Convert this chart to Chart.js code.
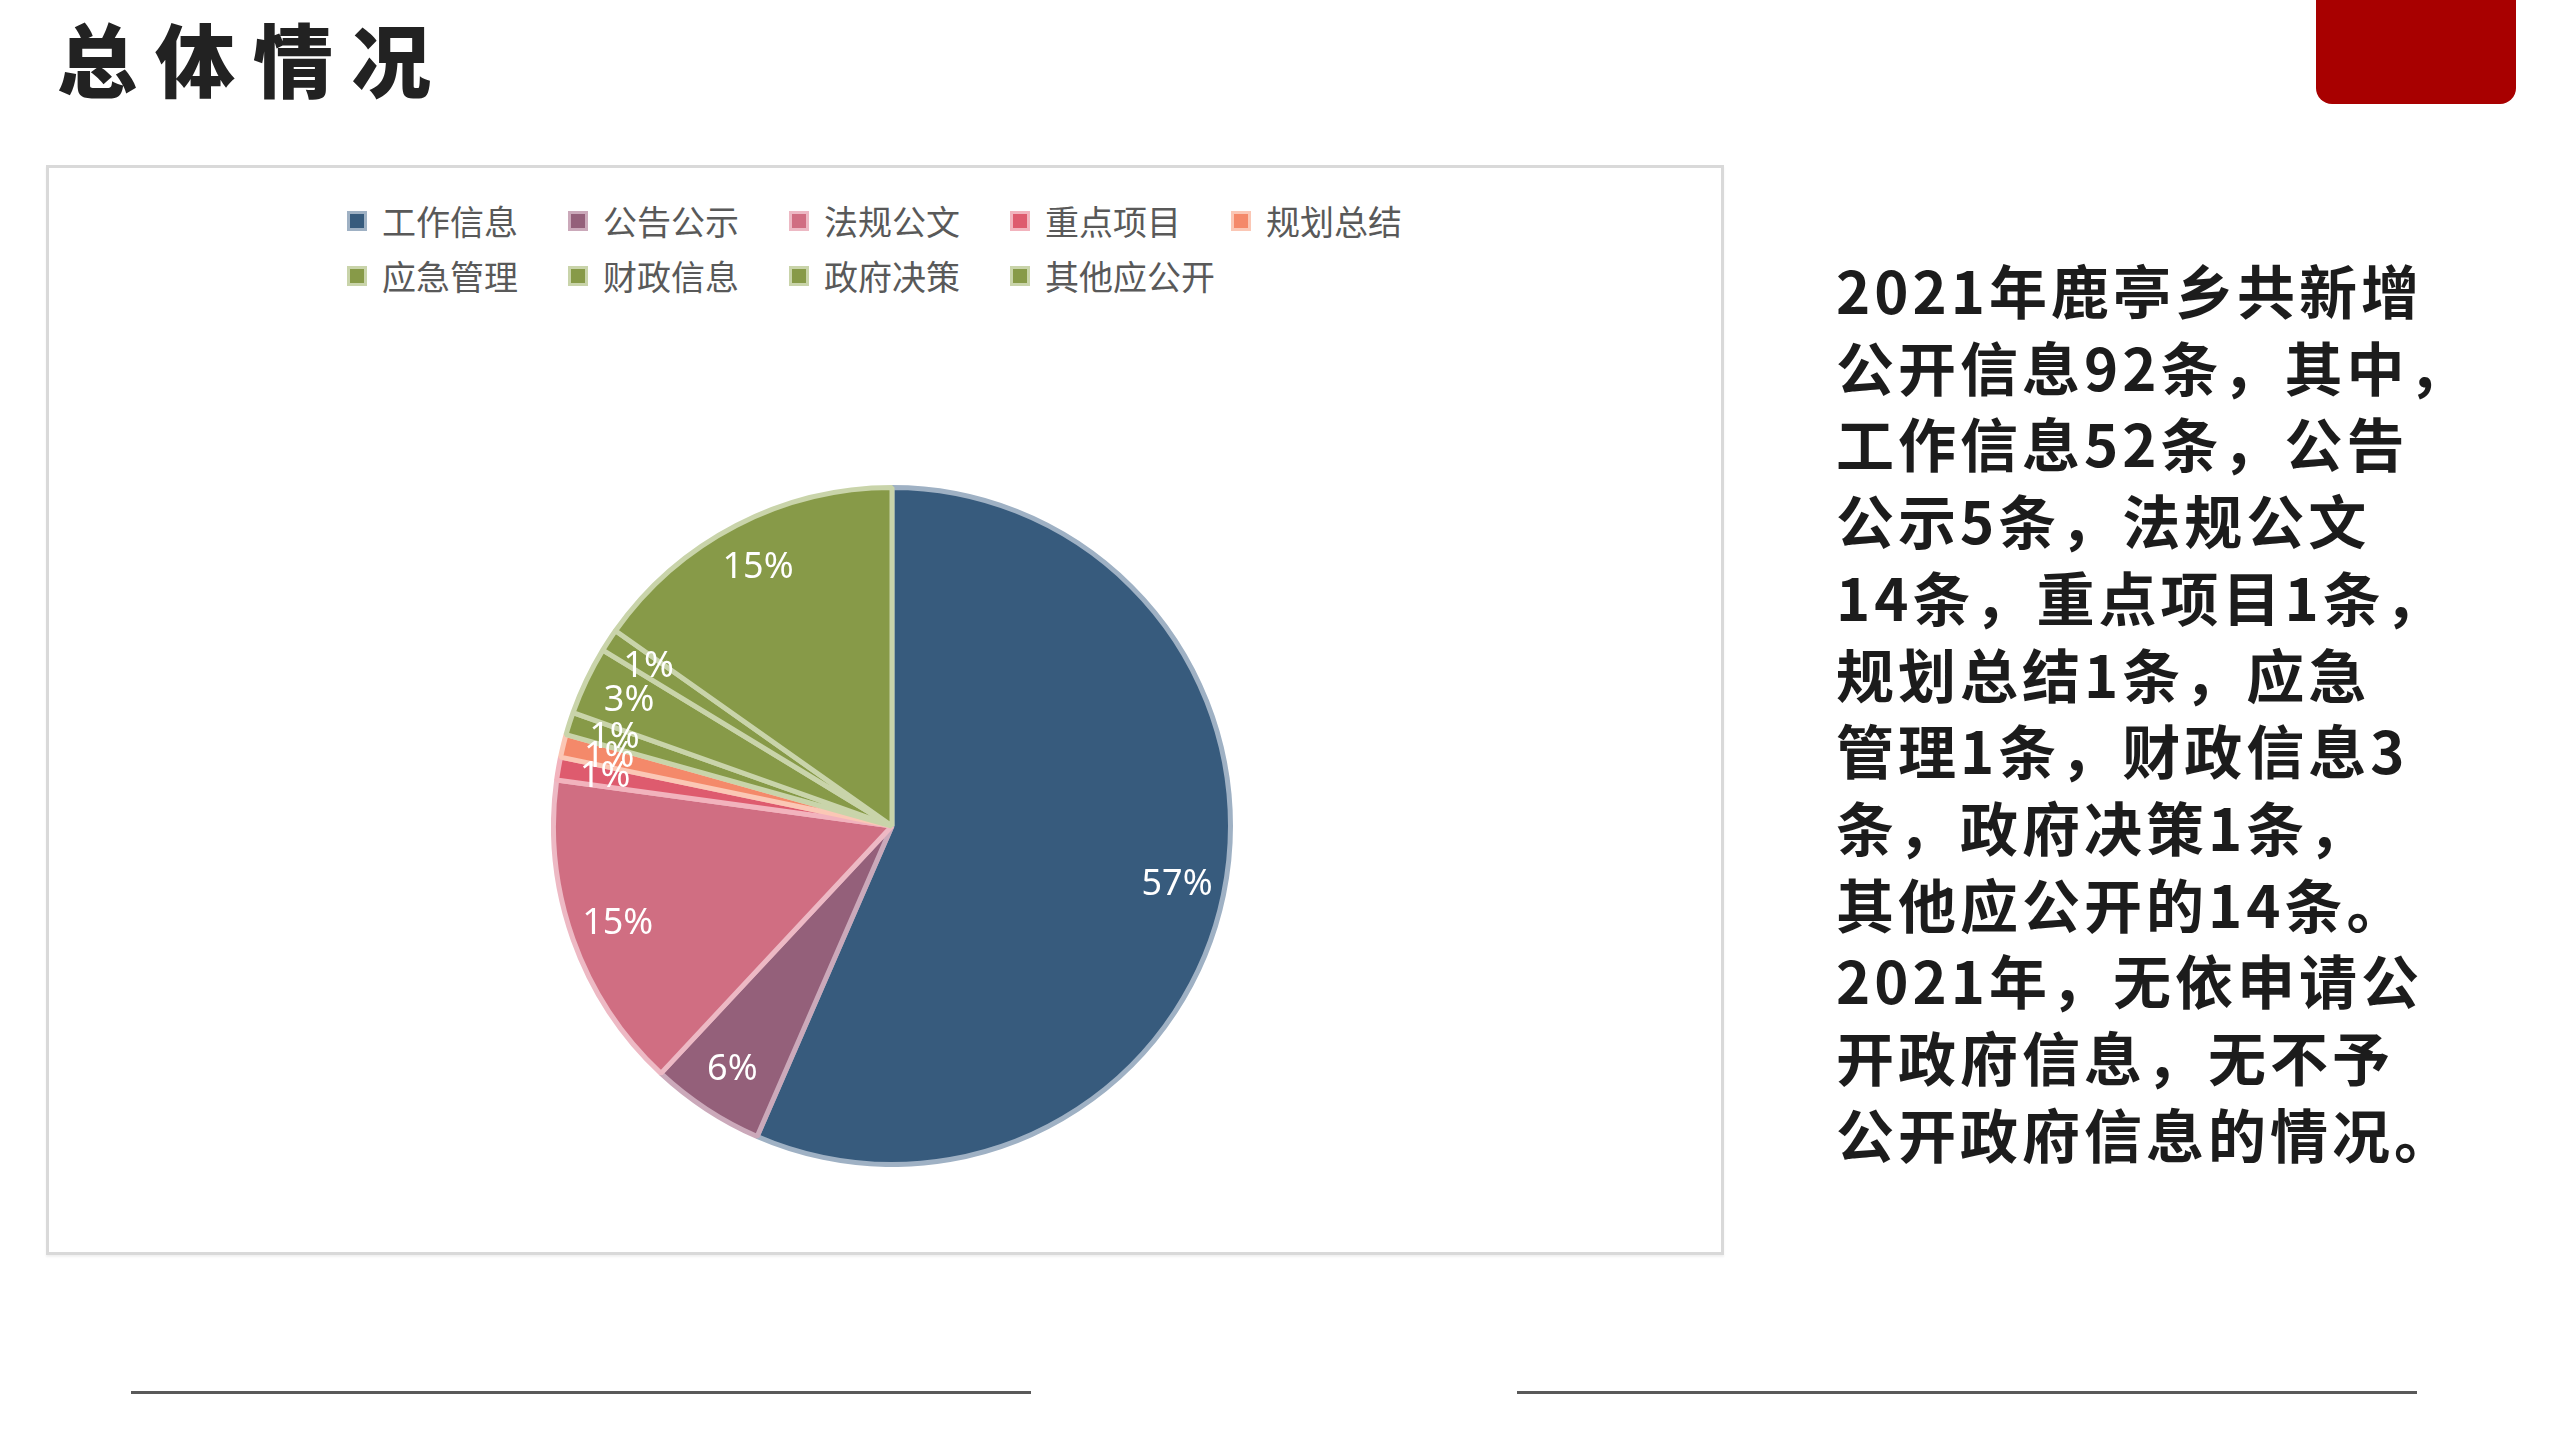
<!DOCTYPE html>
<html>
<head>
<meta charset="utf-8">
<script src="https://cdn.jsdelivr.net/npm/chart.js@4/dist/chart.umd.min.js"></script>
<style>
  html, body { margin:0; padding:0; background:#fff; }
  body { width:2560px; height:1440px; position:relative; overflow:hidden; font-family:"Noto Sans CJK SC","Noto Sans",sans-serif; }
  #title { position:absolute; left:57px; top:16px; font-size:80px; line-height:80px; font-weight:900; letter-spacing:18px; color:#222; }
  #redbox { position:absolute; left:2316px; top:0; width:200px; height:104px; background:#A80000; border-radius:0 0 16px 16px; }
  #frame { position:absolute; left:46px; top:165px; width:1672px; height:1084px; border:3px solid #D9D9D9; box-shadow:0 2px 2px rgba(0,0,0,0.06); }
  #chartWrap { position:absolute; left:551px; top:485px; width:682px; height:682px; }
  #legend { position:absolute; left:347px; top:204px; display:grid; grid-template-columns:repeat(5, 221px); row-gap:21px; }
  .li { display:flex; align-items:center; height:34px; }
  .lb { width:14px; height:14px; border:3px solid; margin-right:15px; }
  .lt { font-size:34px; line-height:34px; color:#595959; white-space:nowrap; }
  #desc { position:absolute; left:1836px; top:251px; font-size:58px; line-height:76.7px; font-weight:700; letter-spacing:4px; color:#1c1c1c; white-space:nowrap; }
  .hl { position:absolute; top:1391px; height:3px; background:#595959; }
</style>
</head>
<body>
<div id="title">总体情况</div>
<div id="redbox"></div>
<div id="frame"></div>
<div id="legend"></div>
<div id="chartWrap"><canvas id="c" width="682" height="682"></canvas></div>
<div id="desc">2021年鹿亭乡共新增<br>公开信息92条，其中，<br>工作信息52条，公告<br>公示5条，法规公文<br>14条，重点项目1条，<br>规划总结1条，应急<br>管理1条，财政信息3<br>条，政府决策1条，<br>其他应公开的14条。<br>2021年，无依申请公<br>开政府信息，无不予<br>公开政府信息的情况。</div>
<div class="hl" style="left:131px;width:900px;"></div>
<div class="hl" style="left:1517px;width:900px;"></div>
<script>
const categories = ['工作信息','公告公示','法规公文','重点项目','规划总结','应急管理','财政信息','政府决策','其他应公开'];
const counts = [52, 5, 14, 1, 1, 1, 3, 1, 14];
const pctLabels = ['57%','6%','15%','1%','1%','1%','3%','1%','15%'];
const sliceColors = ['#375B7D','#94607A','#D06E82','#DE5B6E','#F4896A','#879A48','#879A48','#879A48','#879A48'];
const sliceBorders = ['#9FB1C4','#CBA9BA','#EDB9C4','#F2B3BD','#FBC7B5','#C9D4AA','#C9D4AA','#C9D4AA','#C9D4AA'];

const labelPlugin = {
  id: 'pctLabels',
  afterDatasetsDraw(chart) {
    const ctx = chart.ctx;
    const meta = chart.getDatasetMeta(0);
    ctx.save();
    ctx.fillStyle = '#ffffff';
    ctx.font = '36px "Noto Sans", "Open Sans", sans-serif';
    ctx.textAlign = 'center';
    ctx.textBaseline = 'middle';
    meta.data.forEach((arc, i) => {
      const p = arc.getProps(['x','y','startAngle','endAngle','outerRadius'], true);
      const mid = (p.startAngle + p.endAngle) / 2;
      const r = p.outerRadius * 0.86;
      ctx.fillText(pctLabels[i], p.x + Math.cos(mid) * r, p.y + Math.sin(mid) * r);
    });
    ctx.restore();
  }
};

const chart = new Chart(document.getElementById('c'), {
  type: 'pie',
  data: {
    labels: categories,
    datasets: [{
      data: counts,
      backgroundColor: sliceColors,
      borderColor: sliceBorders,
      borderWidth: 5
    }]
  },
  options: {
    responsive: false,
    devicePixelRatio: 1,
    animation: false,
    layout: { padding: 0 },
    plugins: { legend: { display: false }, tooltip: { enabled: false } }
  },
  plugins: [labelPlugin]
});

const legendEl = document.getElementById('legend');
chart.data.labels.forEach((lab, i) => {
  const item = document.createElement('div');
  item.className = 'li';
  const box = document.createElement('div');
  box.className = 'lb';
  box.style.background = sliceColors[i];
  box.style.borderColor = sliceBorders[i];
  const t = document.createElement('div');
  t.className = 'lt';
  t.textContent = lab;
  item.appendChild(box);
  item.appendChild(t);
  legendEl.appendChild(item);
});
</script>
</body>
</html>
